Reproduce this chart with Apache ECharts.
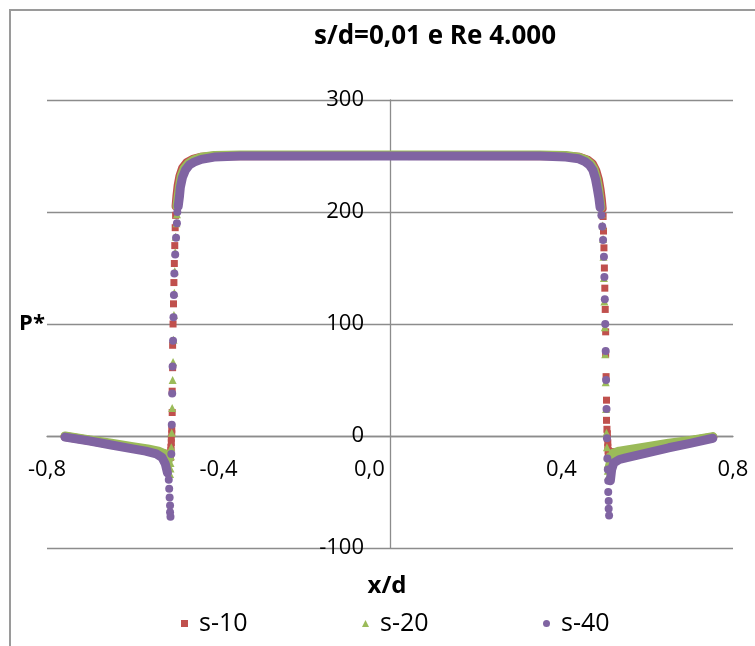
<!DOCTYPE html>
<html><head><meta charset="utf-8">
<script src="https://cdn.jsdelivr.net/npm/echarts@6/dist/echarts.min.js"></script>
<style>html,body{margin:0;padding:0;background:#fff}#c{width:755px;height:646px}</style>
</head><body><div id="c"></div>
<script>
// ---- data ----
const chartTitle = 's/d=0,01 e Re 4.000';
const xName = 'x/d';
const yName = 'P*';
const seriesNames = ['s-10', 's-20', 's-40'];
const xTickValues = [-0.8, -0.4, 0, 0.4, 0.8];
const yTickValues = [-100, 0, 100, 200, 300];

// s-10 : dense parts (appear as continuous bands) and sparse steep points
const s10LeftTail = [[-0.758,-0.5],[-0.70,-4],[-0.65,-7.5],[-0.60,-10.5],[-0.56,-13],[-0.535,-15],[-0.515,-17]];
const s10Top = [[-0.499,205],[-0.497,214],[-0.494,224],[-0.490,232],[-0.484,239],[-0.474,244],[-0.46,247],[-0.44,249],[-0.40,250.3],[0,250.5],[0.40,250.3],[0.44,249],[0.46,246.5],[0.472,243],[0.480,237],[0.486,229],[0.490,220],[0.493,211],[0.495,203]];
const s10RightTail = [[0.512,-15],[0.53,-14.5],[0.56,-13],[0.60,-10.5],[0.65,-7.5],[0.70,-4.5],[0.753,-1]];
const s10Steep = [[-0.500,197],[-0.501,186],[-0.502,170],[-0.503,154],[-0.504,137],[-0.505,118],[-0.506,100],[-0.507,81],[-0.507,61],[-0.508,40],[-0.508,21],
  [-0.509,6],[-0.509,2],[-0.510,-2],[-0.510,-6],[-0.511,-10],[-0.511,-13],[-0.512,-16],[-0.512,-19],
  [0.497,196],[0.498,183],[0.499,168],[0.500,150],[0.501,132],[0.502,113],[0.503,93],[0.503,73],[0.504,53],[0.505,32],[0.505,14],
  [0.506,6],[0.507,2],[0.507,-2],[0.508,-6],[0.508,-10],[0.509,-13],[0.509,-16]];

// s-20
const s20LeftTail = [[-0.758,0],[-0.70,-3.5],[-0.65,-6.5],[-0.60,-9.5],[-0.565,-11.5],[-0.54,-13.5],[-0.525,-16],[-0.517,-22]];
const s20Top = [[-0.497,205],[-0.494,214],[-0.491,223],[-0.487,232],[-0.480,239],[-0.470,243.5],[-0.458,246.5],[-0.44,249],[-0.41,250.5],[-0.35,251],[0,251],[0.35,251],[0.41,250.5],[0.44,249],[0.457,246.5],[0.468,243],[0.476,238],[0.482,230],[0.486,222],[0.489,213],[0.492,204]];
const s20RightTail = [[0.512,-28],[0.515,-20],[0.52,-15.5],[0.535,-13.5],[0.56,-12],[0.60,-9.5],[0.65,-6.5],[0.70,-4],[0.753,-0.5]];
const s20Steep = [[-0.497,198],[-0.498,190],[-0.500,178],[-0.501,164],[-0.502,147],[-0.503,128],[-0.504,108],[-0.505,86],[-0.506,66],[-0.507,50],[-0.508,25],[-0.509,3],
  [-0.510,-10],[-0.511,-18],[-0.512,-24],[-0.512,-29],[-0.513,-34],
  [0.494,198],[0.496,188],[0.497,176],[0.498,160],[0.499,141],[0.500,120],[0.501,97],[0.502,73],[0.503,48],[0.504,24],[0.505,3],
  [0.506,-10],[0.507,-18],[0.508,-25],[0.508,-31],[0.509,-36]];

// s-40
const s40LeftTail = [[-0.758,-1],[-0.70,-4.5],[-0.65,-8],[-0.60,-11.5],[-0.57,-13.5],[-0.545,-16],[-0.532,-19],[-0.524,-25],[-0.519,-33]];
const s40Top = [[-0.494,205],[-0.491,214],[-0.489,222],[-0.484,231],[-0.477,237.5],[-0.468,242],[-0.457,244.5],[-0.44,247],[-0.41,249],[-0.35,250],[0,250],[0.35,250],[0.41,249],[0.44,247.5],[0.455,245],[0.465,242],[0.473,237.5],[0.479,230],[0.483,222],[0.487,213],[0.490,204]];
const s40RightTail = [[0.514,-40],[0.517,-30],[0.522,-24],[0.535,-21],[0.55,-19.5],[0.60,-15],[0.65,-10.5],[0.70,-6.5],[0.753,-2]];
const s40Steep = [[-0.516,-39],[-0.515,-47],[-0.514,-55],[-0.513,-62],[-0.513,-68],[-0.512,-72],
  [-0.510,-16],[-0.509,10],[-0.508,38],[-0.507,62],[-0.506,85],[-0.505,106],[-0.504,126],[-0.503,145],[-0.501,162],[-0.499,177],[-0.497,190],[-0.496,200],
  [0.493,197],[0.495,187],[0.497,175],[0.499,160],[0.500,142],[0.501,122],[0.502,100],[0.503,76],[0.504,50],[0.505,24],[0.506,-2],[0.507,-20],
  [0.508,-30],[0.509,-40],[0.509,-50],[0.510,-58],[0.510,-65],[0.511,-71]];

// ---- styling ----
const colors = ['#C0504D', '#9BBB59', '#8064A2'];
const symbols = ['rect', 'triangle', 'circle'];
const symbolSizes = [7, 8, 8];
const FONT = '"Open Sans", "Noto Sans", sans-serif';
const GRID_COLOR = '#8c8c8c';
const GRID = { left: 47, right: 22, top: 100, bottom: 98 };
const W = 755, H = 646;

const steepSets = [s10Steep, s20Steep, s40Steep];
const bandSets = [[s10LeftTail, s10Top, s10RightTail], [s20LeftTail, s20Top, s20RightTail], [s40LeftTail, s40Top, s40RightTail]];

const series = [];
seriesNames.forEach((name, i) => {
  series.push({
    name, type: 'scatter', data: steepSets[i], symbol: symbols[i], symbolSize: symbolSizes[i],
    itemStyle: { color: colors[i], opacity: 1 }, z: 2 + i, silent: true
  });
});
seriesNames.forEach((name, i) => {
  bandSets[i].forEach(seg => {
    series.push({
      name, type: 'line', data: seg, showSymbol: false, symbol: 'none', smooth: false,
      lineStyle: { color: colors[i], width: 9, cap: 'round', join: 'round' },
      itemStyle: { color: colors[i] }, z: 2 + i, silent: true
    });
  });
});

const fmt = v => v.toFixed(1).replace('.', ',');

// axes cross at (0,0): move each axis from its grid edge to the zero of the other axis
const xMin = xTickValues[0], xMax = xTickValues[xTickValues.length - 1];
const yMin = yTickValues[0], yMax = yTickValues[yTickValues.length - 1];
const plotW = W - GRID.left - GRID.right, plotH = H - GRID.top - GRID.bottom;
const yAxisOffset = -plotW * (0 - xMin) / (xMax - xMin);
const xAxisOffset = -plotH * (0 - yMin) / (yMax - yMin);

const legendLefts = [181, 362, 543];
const legends = seriesNames.map((name, i) => ({
  data: [{ name, icon: symbols[i] }],
  left: legendLefts[i], top: 611, padding: 0,
  itemWidth: 7, itemHeight: 7, selectedMode: false,
  textStyle: { fontSize: 25, fontFamily: FONT, color: '#000', padding: [0, 0, 0, 6] }
}));

const chart = echarts.init(document.getElementById('c'), null, { renderer: 'canvas' });
chart.setOption({
  animation: false,
  backgroundColor: '#fff',
  grid: Object.assign({ outerBoundsMode: 'none', containLabel: false }, GRID),
  xAxis: {
    type: 'value', min: xMin, max: xMax, interval: 0.4, position: 'bottom', offset: xAxisOffset,
    axisLine: { onZero: false, lineStyle: { color: GRID_COLOR, width: 1.3 } },
    axisTick: { show: false }, splitLine: { show: false },
    axisLabel: {
      margin: 23, fontSize: 22, fontFamily: FONT, color: '#000',
      formatter: v => Math.abs(v) < 1e-9 ? '{z|' + fmt(0) + '}' : fmt(v),
      rich: { z: { fontSize: 22, fontFamily: FONT, color: '#000', width: 72, align: 'left' } }
    }
  },
  yAxis: {
    type: 'value', min: yMin, max: yMax, interval: 100, position: 'left', offset: yAxisOffset,
    axisLine: { onZero: false, lineStyle: { color: GRID_COLOR, width: 1.3 } },
    axisTick: { show: false },
    splitLine: { show: true, lineStyle: { color: GRID_COLOR, width: 1.3 } },
    axisLabel: { margin: 26, fontSize: 22, fontFamily: FONT, color: '#000' }
  },
  legend: legends,
  graphic: [
    { type: 'rect', shape: { x: 10, y: 10, width: 800, height: 700 }, style: { fill: 'none', stroke: '#9a9a9a', lineWidth: 2 }, silent: true, z: -10 },
    { type: 'text', x: 435, y: 37, style: { text: chartTitle, fontSize: 26, fontWeight: 'bold', fontFamily: FONT, fill: '#000', align: 'center', verticalAlign: 'middle' } },
    { type: 'text', x: 32, y: 324, style: { text: yName, fontSize: 22, fontWeight: 'bold', fontFamily: FONT, fill: '#000', align: 'center', verticalAlign: 'middle' } },
    { type: 'text', x: 387, y: 586, style: { text: xName, fontSize: 24, fontWeight: 'bold', fontFamily: FONT, fill: '#000', align: 'center', verticalAlign: 'middle' } }
  ],
  series
});
</script></body></html>
